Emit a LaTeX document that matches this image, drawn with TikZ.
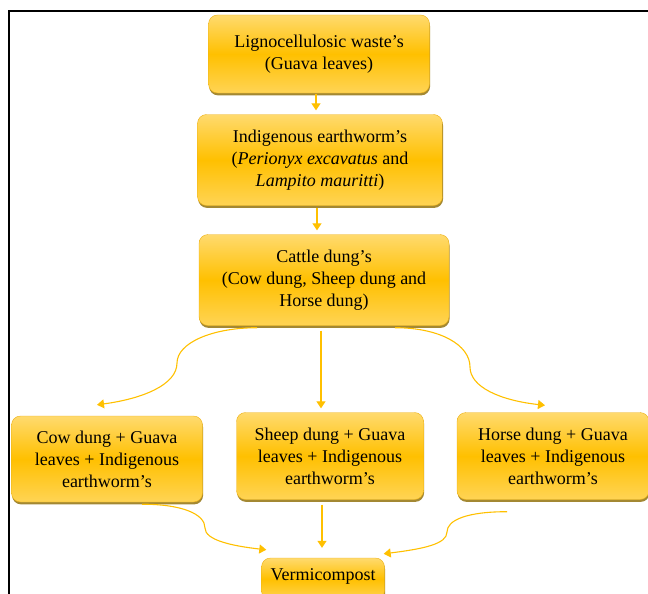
\documentclass[tikz,border=0pt]{standalone}
\usepackage{fontspec}
\setmainfont{Liberation Serif}
\usetikzlibrary{arrows.meta, calc, shadows}
\definecolor{goldtop}{RGB}{255,218,110}
\definecolor{goldmid}{RGB}{255,192,0}
\definecolor{goldbot}{RGB}{255,212,85}
\definecolor{goldline}{RGB}{236,176,20}
\definecolor{goldarr}{RGB}{255,192,0}

\begin{document}
\begin{tikzpicture}[
    x=1pt, y=-1pt,
    box/.style={draw=goldline,rounded corners=9pt,align=center,inner sep=0pt,
                top color=goldtop,bottom color=goldbot,middle color=goldmid,
                drop shadow={shadow xshift=0.6pt,shadow yshift=-2.4pt,
                             fill=goldmid!55!black,opacity=0.8},
                font=\fontsize{18}{22}\selectfont},
    arr/.style={-{Triangle[length=7pt,width=9pt]},goldarr,line width=1.1pt}
]
  \useasboundingbox (0,0) rectangle (648,594);
  % Frame
  \draw[line width=1.6pt] (9,594) -- (9,11) -- (648,11);

  % Main chain
  \node[box,minimum width=221pt,minimum height=78pt] (waste) at (319,54) {Lignocellulosic waste’s\\(Guava leaves)};
  \node[box,minimum width=245pt,minimum height=91pt] (worms) at (320,160) {Indigenous earthworm’s\\(\textit{Perionyx excavatus} and\\\textit{Lampito mauritti})};
  \node[box,minimum width=250pt,minimum height=91pt] (dung) at (324,280) {Cattle dung’s\\(Cow dung, Sheep dung and\\Horse dung)};

  % Three mixtures
  \node[box,minimum width=191pt,minimum height=86pt] (cowmix) at (107,459) {Cow dung + Guava\\leaves + Indigenous\\earthworm’s};
  \node[box,minimum width=187pt,minimum height=87pt] (sheepmix) at (330,456) {Sheep dung + Guava\\leaves + Indigenous\\earthworm’s};
  \node[box,minimum width=192pt,minimum height=87pt] (horsemix) at (553,456) {Horse dung + Guava\\leaves + Indigenous\\earthworm’s};

  % Result
  \node[box,minimum width=123pt,text height=22pt,text depth=20pt,anchor=base] (vermi) at (323,580) {Vermicompost};

  % Straight arrows
  \draw[arr] ($(waste.south)+(-3,1)$) -- ($(waste.south |- worms.north)+(-3,-4)$);
  \draw[arr] ($(worms.south)+(-3,2)$) -- ($(worms.south |- dung.north)+(-3,-4)$);
  \draw[arr] ($(dung.south)+(-3,5)$) -- ($(dung.south |- sheepmix.north)+(-3,-4)$);
  \draw[arr] ($(sheepmix.south -| vermi.north)+(-1,5)$) -- ($(vermi.north)+(-1,-10)$);

  % Bends of the curved arrows
  \coordinate (cowbend) at (177,363);
  \coordinate (horsebend) at (470,367);
  \coordinate (cowjoin) at (205,528);
  \coordinate (horsejoin) at (447,532);

  % Curved arrows
  \draw[arr] ($(dung.south)+(-67,2)$) .. controls +(-45,0) and +(0,-20) .. (cowbend)
             .. controls +(0,22) and +(45,-6) .. ($(cowmix.north)+(-10,-11)$);
  \draw[arr] ($(dung.south)+(71,2)$) .. controls +(45,0) and +(0,-22) .. (horsebend)
             .. controls +(0,20) and +(-45,-5) .. ($(horsemix.north)+(-8,-7)$);
  \draw[arr] ($(cowmix.south)+(35,2)$) .. controls +(40,0) and +(0,-14) .. (cowjoin)
             .. controls +(0,12) and +(-35,-4) .. ($(vermi.north west)+(5,-8)$);
  \draw[arr] ($(horsemix.south)+(-46,12)$) .. controls +(-40,0) and +(0,-12) .. (horsejoin)
             .. controls +(0,12) and +(40,-5) .. ($(vermi.north east)+(-1,-4)$);
\end{tikzpicture}
\end{document}
